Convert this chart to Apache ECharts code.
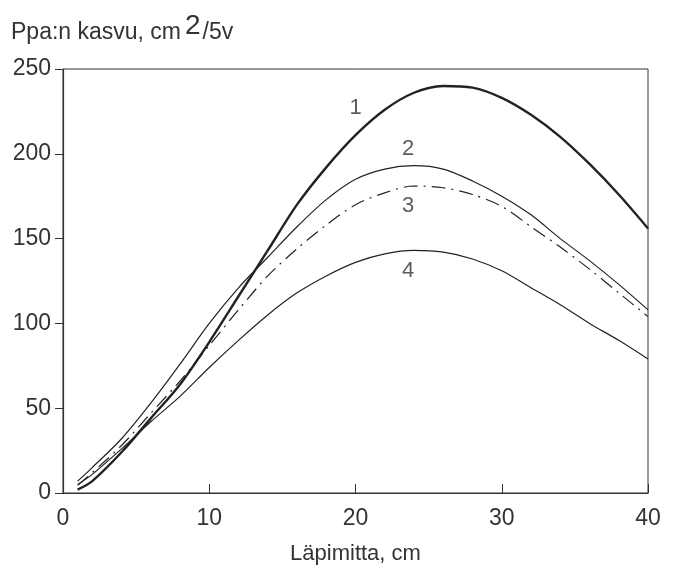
<!DOCTYPE html>
<html>
<head>
<meta charset="utf-8">
<script src="https://cdn.jsdelivr.net/npm/echarts@6/dist/echarts.min.js"></script>
<style>html,body{margin:0;padding:0;background:#fff}#c{width:677px;height:571px}</style>
</head>
<body>
<div id="c"></div>
<script>
var xVals = [1,2,4,6,8,10,12,14,16,18,20,22,24,26,28,30,32,34,36,38,40];
var curve1 = [2,7,24,44,64,89,116,143,170,192,211,226,236,240,239,233,223,210,194,176,156];
var curve2 = [7,15,32,53,76,100,121,139,157,173,185,191,193,191,184,175,164,150,137,123,108];
var curve3 = [4.5,12,28,47,66,87,108,128,144,158,170,177,181,180,176,169,157,145,132,118,104];
var curve4 = [5,11,26,42,57,74,90,105,118,128,136,141,143,142,138,131,121,111,100,90,79];
var curveLabels = ['1','2','3','4'];
var labelPos = [[20,227],[23.6,203],[23.6,169.5],[23.6,131]];
var xTicks = [0,10,20,30,40];
var yTicks = [0,50,100,150,200,250];

function pairs(ys){ return xVals.map(function(x,i){ return [x, ys[i]]; }); }
var FONT = 'Liberation Sans, Arial, sans-serif';
var chart = echarts.init(document.getElementById('c'), null, {renderer:'canvas'});
function lineSeries(ys, w, type){
  return {type:'line', data:pairs(ys), smooth:0.3, symbol:'none',
    lineStyle:{color:'#222', width:w, type:type||'solid'}, z:3};
}
chart.setOption({
  animation:false,
  grid:{left:63, right:29, top:69, bottom:78, show:true, borderColor:'#333', borderWidth:1,
    containLabel:false, outerBoundsMode:'none'},
  xAxis:{type:'value', min:xTicks[0], max:xTicks[xTicks.length-1], interval:10,
    axisLine:{show:true, onZero:false, lineStyle:{color:'#333', width:1.2}},
    axisTick:{show:true, inside:true, length:9, lineStyle:{color:'#333'}},
    splitLine:{show:false},
    axisLabel:{color:'#333', fontSize:23, fontFamily:FONT, margin:14},
    name:'Läpimitta, cm', nameLocation:'middle', nameGap:50,
    nameTextStyle:{color:'#333', fontSize:22, fontFamily:FONT}},
  yAxis:{type:'value', min:yTicks[0], max:yTicks[yTicks.length-1], interval:50,
    axisLine:{show:true, lineStyle:{color:'#333', width:1.2}},
    axisTick:{show:true, inside:false, length:8, lineStyle:{color:'#333'}},
    splitLine:{show:false},
    axisLabel:{color:'#333', fontSize:23, fontFamily:FONT, margin:12}},
  graphic:[{type:'text', left:11, top:12, style:{
    rich:{m:{fontSize:23, fontFamily:FONT, fill:'#333', verticalAlign:'bottom', lineHeight:32},
          s:{fontSize:28, fontFamily:FONT, fill:'#333', verticalAlign:'top', lineHeight:32, padding:[0,2,12,4]}},
    text:'{m|Ppa:n kasvu, cm}{s|2}{m|/5v}'}}],
  series:[
    lineSeries(curve1, 2.4),
    lineSeries(curve2, 1.2),
    lineSeries(curve3, 1.2, [14,6,2,6]),
    lineSeries(curve4, 1.2),
    {type:'scatter', symbolSize:0, data:labelPos.map(function(p,i){return {value:p, name:curveLabels[i]};}),
      label:{show:true, position:'inside', formatter:'{b}', color:'#333', fontSize:22, fontFamily:FONT}, z:5}
  ]
});
</script>
</body>
</html>
